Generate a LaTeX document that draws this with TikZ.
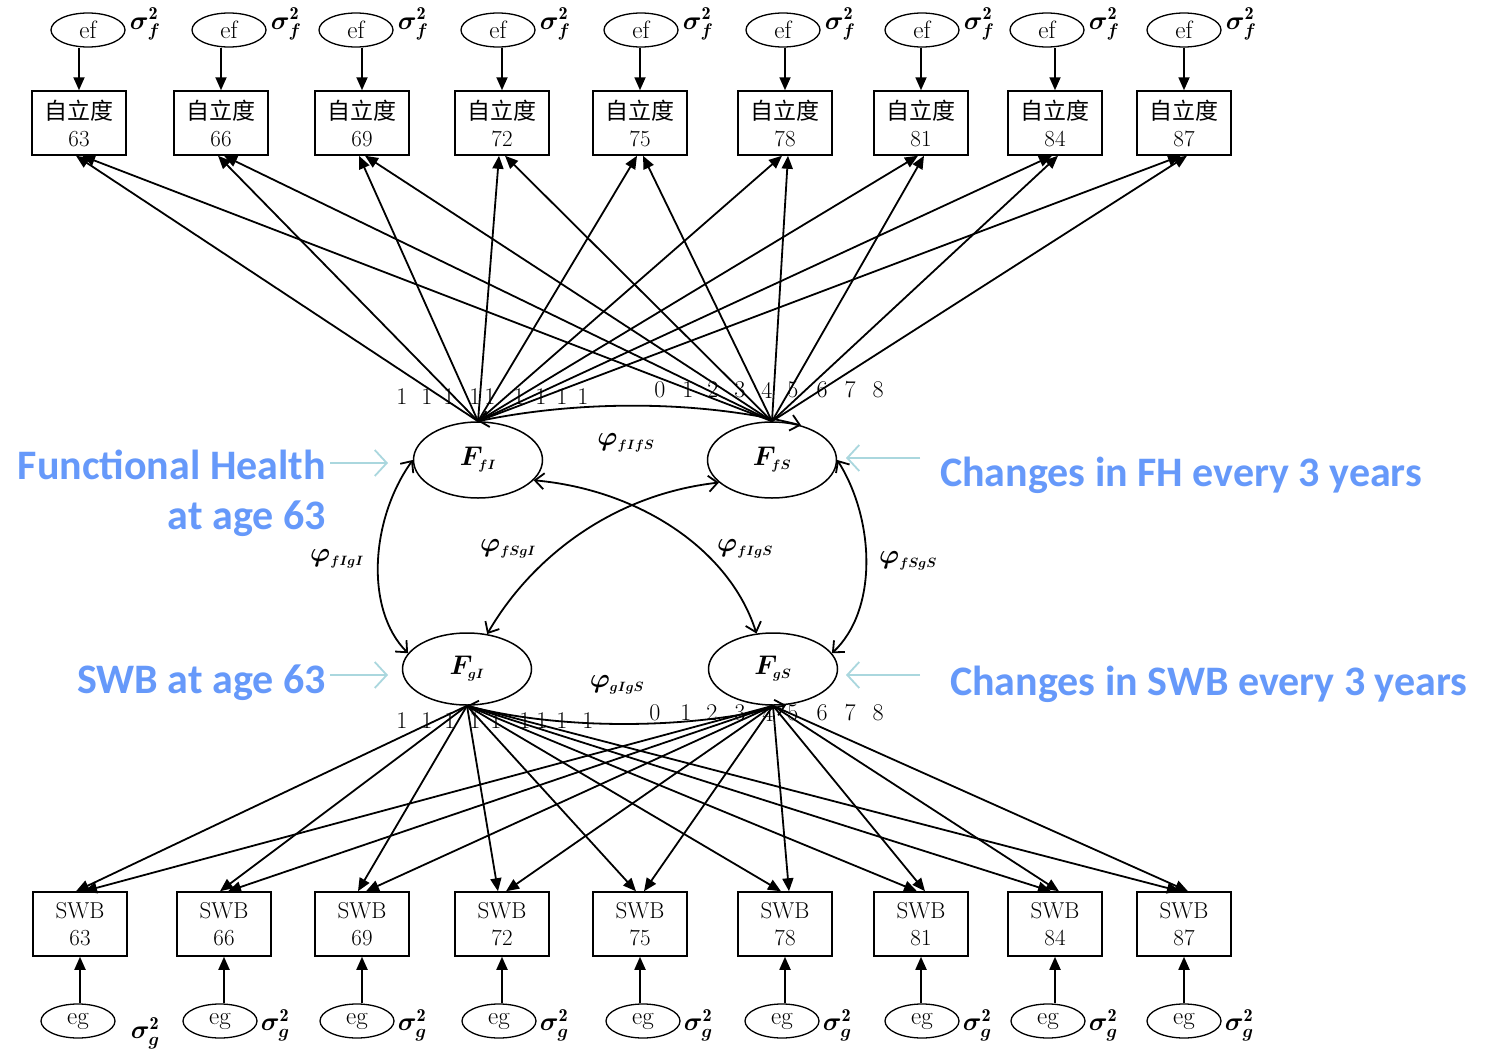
\RequirePackage{fix-cm}
\documentclass[tikz,border=0pt]{standalone}
\usepackage{amsmath,bm}
\usepackage{fontspec}
\newfontfamily\cjk{Noto Sans CJK SC}
\newfontfamily\carlito{Carlito}
\usetikzlibrary{shapes.geometric,arrows.meta}
\definecolor{noteblue}{RGB}{102,153,250}
\definecolor{pointcol}{RGB}{170,215,222}
\tikzset{
  obs/.style={draw, line width=1.5pt, minimum width=94pt, minimum height=64pt, inner sep=0pt, align=center, font=\fontsize{23}{27}\selectfont},
  err/.style={draw, ellipse, line width=1.3pt, minimum width=74pt, minimum height=34pt, inner sep=0pt, font=\fontsize{25}{25}\selectfont},
  lat/.style={draw, ellipse, line width=1.5pt, minimum width=129pt, minimum height=76pt, inner sep=0pt, font=\fontsize{27}{27}\selectfont},
  load/.style={-{Triangle[length=13pt,width=11pt]}, line width=1.8pt},
  cov/.style={{Straight Barb[length=9pt,width=16pt]}-{Straight Barb[length=9pt,width=16pt]}, line width=1.8pt},
  lbl/.style={font=\fontsize{24}{24}\selectfont, inner sep=0pt},
  phi/.style={font=\fontsize{27}{27}\selectfont, inner sep=0pt},
  sig/.style={font=\fontsize{26}{26}\selectfont, inner sep=0pt},
  note/.style={text=noteblue, font=\carlito\bfseries\fontsize{42}{50}\selectfont, inner sep=0pt, align=right},
  pointer/.style={draw=pointcol, line width=1.8pt, -{Straight Barb[length=12pt,width=26pt]}}
}
\begin{document}
\begin{tikzpicture}[x=1pt,y=-1pt]
\useasboundingbox (0,0) rectangle (1492,1052);
\fill[white] (0,0) rectangle (1492,1052);

% top indicators and errors
\foreach \n/\bx/\ex in {63/79/88,66/221/229,69/362/356,72/502/498,75/640/641,78/785/783,81/921/922,84/1055/1047,87/1184/1184}{
  \node[obs] (t\n) at (\bx,123) {{\cjk 自立度}\\\n};
  \node[err] (e\n) at (\ex,30) {ef};
  \node[sig, anchor=west] (se\n) at ([xshift=4pt,yshift=6pt]e\n.east) {$\bm{\sigma}^{\mathbf{2}}_{\bm{f}}$};
  \draw[load] (t\n.north |- e\n.south) -- (t\n.north);
}
% bottom indicators and errors
\foreach \n/\bx/\ex in {63/80/78,66/224/220,69/362/357,72/502/499,75/640/643,78/785/782,81/921/922,84/1055/1048,87/1184/1184}{
  \node[obs] (b\n) at (\bx,924) {SWB\\\n};
  \node[err] (g\n) at (\ex,1021) {eg};
  \draw[load] (b\n.south |- g\n.north) -- (b\n.south);
}
\node[sig, anchor=west] (sg63) at ([xshift=15pt,yshift=-12pt]g63.east) {$\bm{\sigma}^{\mathbf{2}}_{\bm{g}}$};
\foreach \n in {66,69,72,75,78,81,84,87}{
  \node[sig, anchor=west] (sg\n) at ([xshift=3pt,yshift=-4pt]g\n.east) {$\bm{\sigma}^{\mathbf{2}}_{\bm{g}}$};
}

% latent factors
\node[lat] (FfI) at (478,460) {$\bm{F}_{\scriptscriptstyle\bm{fI}}$};
\node[lat] (FfS) at (772,460) {$\bm{F}_{\scriptscriptstyle\bm{fS}}$};
\node[lat, minimum height=72pt] (FgI) at (467,669) {$\bm{F}_{\scriptscriptstyle\bm{gI}}$};
\node[lat, minimum height=72pt] (FgS) at (773,669) {$\bm{F}_{\scriptscriptstyle\bm{gS}}$};

% loadings
\foreach \n in {63,66,69,72,75,78,81,84,87}{
  \draw[load] (FfI.north) -- ([xshift=-3pt]t\n.south);
  \draw[load] (FfS.north) -- ([xshift=3pt]t\n.south);
  \draw[load] (FgI.south) -- ([xshift=-4pt]b\n.north);
  \draw[load] (FgS.south) -- ([xshift=4pt]b\n.north);
}

% loading labels
\foreach \x [count=\i] in {402,427,449,475,490,519,541,562,583}{
  \node[lbl] (lfi\i) at (\x,397) {1};
}
\foreach \x [count=\i from 0] in {660,688,713,740,767,793,822,850,878}{
  \node[lbl] (lfs\i) at (\x,390) {\i};
}
\foreach \x [count=\i] in {402,427,450,475,496,525,542,562,588}{
  \node[lbl] (lgi\i) at (\x,721) {1};
}
\foreach \x [count=\i from 0] in {655,686,712,740,768,793,822,850,878}{
  \node[lbl] (lgs\i) at (\x,713) {\i};
}

% covariances
\draw[cov] (FfI.north) .. controls (580,400) and (700,400) .. (FfS.50);
\draw[cov] (FgI.south) .. controls (560,730) and (690,730) .. (FgS.-70);
\draw[cov] (FfI.west) .. controls (370,520) and (365,610) .. (FgI.165);
\draw[cov] (FfS.east) .. controls (875,520) and (878,610) .. (FgS.15);
\draw[cov] (FgI.60) .. controls (530,560) and (610,495) .. (FfS.203);
\draw[cov] (FfI.-20) .. controls (640,490) and (730,550) .. (FgS.115);

\node[phi] (pfifs) at (626,443) {$\bm{\varphi}_{\scriptscriptstyle\bm{fIfS}}$};
\node[phi] (pgigs) at (617,685) {$\bm{\varphi}_{\scriptscriptstyle\bm{gIgS}}$};
\node[phi] (pfigi) at (337,559) {$\bm{\varphi}_{\scriptscriptstyle\bm{fIgI}}$};
\node[phi] (pfsgi) at (508,549) {$\bm{\varphi}_{\scriptscriptstyle\bm{fSgI}}$};
\node[phi] (pfigs) at (745,549) {$\bm{\varphi}_{\scriptscriptstyle\bm{fIgS}}$};
\node[phi] (pfsgs) at (908,561) {$\bm{\varphi}_{\scriptscriptstyle\bm{fSgS}}$};

% notes
\node[note, anchor=east] (nFH) at (326,493) {Functional Health\\at age 63};
\node[note, anchor=east] (nSWB) at (326,683) {SWB at age 63};
\node[note, anchor=west] (nCFH) at (940,475) {Changes in FH every 3 years};
\node[note, anchor=west] (nCSWB) at (950,684) {Changes in SWB every 3 years};

\coordinate (a1) at (330,463); \coordinate (a1e) at (388,463);
\coordinate (a2) at (330,675); \coordinate (a2e) at (388,675);
\coordinate (a3) at (920,458); \coordinate (a3e) at (846,458);
\coordinate (a4) at (920,675); \coordinate (a4e) at (846,675);
\draw[pointer] (a1) -- (a1e);
\draw[pointer] (a2) -- (a2e);
\draw[pointer] (a3) -- (a3e);
\draw[pointer] (a4) -- (a4e);
\end{tikzpicture}
\end{document}
